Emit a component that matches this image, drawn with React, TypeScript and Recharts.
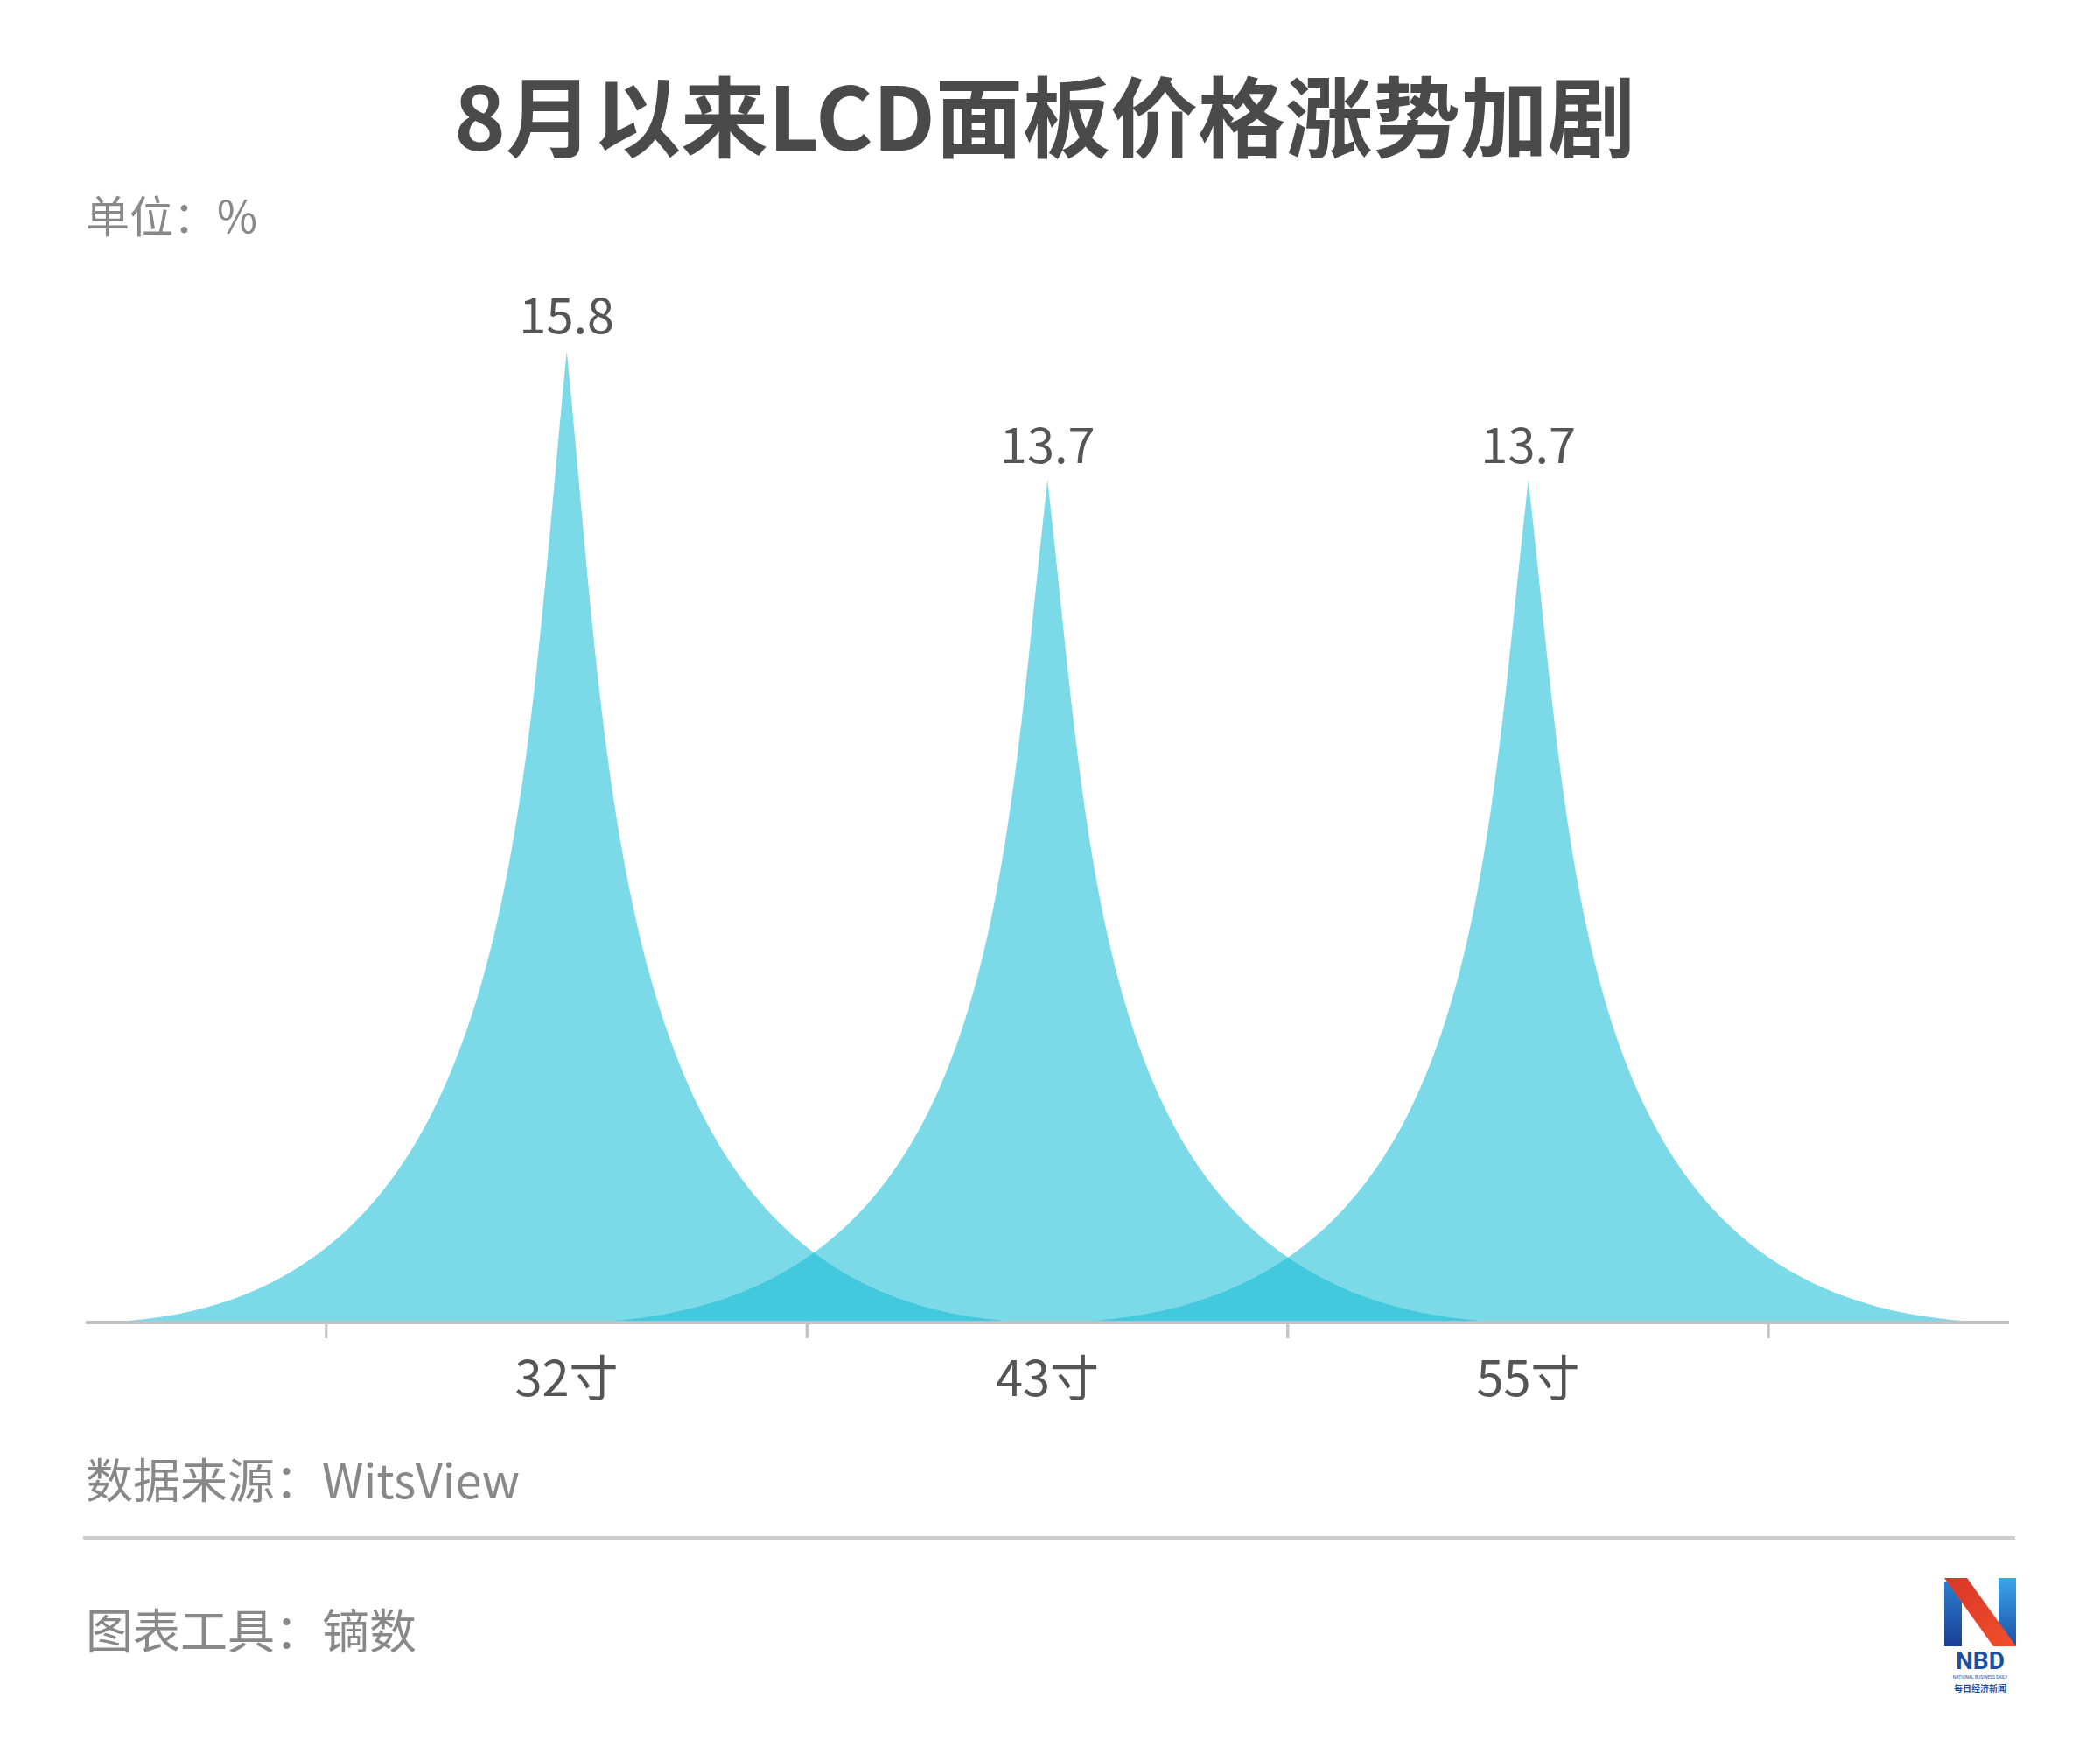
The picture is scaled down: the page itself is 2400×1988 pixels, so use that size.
import React from 'react';
import { BarChart, Bar, XAxis, YAxis, LabelList } from 'recharts';

const categories = ['32寸', '43寸', '55寸'];
const values = [15.8, 13.7, 13.7];
const titleText = '8月以来LCD面板价格涨势加剧';
const unitText = '单位：%';
const sourceText = '数据来源：WitsView';
const toolText = '图表工具：镝数';

const data = categories.map((name, i) => ({ name, value: values[i] }));

const FONT = '"Noto Sans CJK SC", "Noto Sans", sans-serif';
const W = 2400;
const H = 1988;
const M = { top: 387, right: 104, bottom: 397, left: 98 };
const XH = 80;
const PLOT_W = W - M.left - M.right;
const PAD = PLOT_W / 8;
const BAND = (PLOT_W - 2 * PAD) / 3;

function Spike(props: any) {
  const { x, y, width, height } = props;
  if (!height || height <= 0) return null;
  const cx = x + width / 2;
  const half = width;
  const X = (u: number) => cx - half + (u / 10) * 2 * half;
  const Y = (v: number) => y + (v / 10) * height;
  const d = `M${X(0)},${Y(10)} L${X(10)},${Y(10)} C${X(5.5)},${Y(10)} ${X(5.5)},${Y(5)} ${X(5)},${Y(0)} C${X(4.5)},${Y(5)} ${X(4.5)},${Y(10)} ${X(0)},${Y(10)} Z`;
  return <path d={d} fill="rgb(28,190,216)" fillOpacity={0.58} />;
}

function Tick(props: any) {
  const { x, y, payload } = props;
  const off = BAND / 2;
  return (
    <g>
      <line x1={x - off} x2={x - off} y1={y} y2={y + 18} stroke="#c4c4c8" strokeWidth={3} />
      <line x1={x + off} x2={x + off} y1={y} y2={y + 18} stroke="#c4c4c8" strokeWidth={3} />
      <text x={x} y={y + 84} textAnchor="middle" fill="#555555" fontSize={56} fontFamily={FONT}>
        {payload.value}
      </text>
    </g>
  );
}

function Logo() {
  return (
    <g transform="translate(2222,1803)">
      <defs>
        <linearGradient id="lb" x1="0" y1="0" x2="0" y2="1">
          <stop offset="0" stopColor="#2a7fd0" />
          <stop offset="1" stopColor="#1a3f96" />
        </linearGradient>
        <linearGradient id="rb" x1="0" y1="0" x2="0" y2="1">
          <stop offset="0" stopColor="#3aa6e8" />
          <stop offset="1" stopColor="#1c4fa8" />
        </linearGradient>
        <linearGradient id="rd" x1="0" y1="0" x2="1" y2="1">
          <stop offset="0" stopColor="#d9362a" />
          <stop offset="1" stopColor="#f0502a" />
        </linearGradient>
      </defs>
      <polygon points="0,4 20,4 20,78 0,78" fill="url(#lb)" />
      <polygon points="62,0 82,0 82,78 62,60" fill="url(#rb)" />
      <polygon points="0,0 26,0 82,78 56,78" fill="url(#rd)" />
      <text x={41} y={104} textAnchor="middle" fontSize={28} fontWeight={700} fill="#1c4fa0" fontFamily="Roboto, sans-serif">NBD</text>
      <text x={41} y={115} textAnchor="middle" fontSize={5} fill="#1c4fa0" fontFamily="Roboto, sans-serif">NATIONAL BUSINESS DAILY</text>
      <text x={41} y={130} textAnchor="middle" fontSize={10} fontWeight={700} fill="#1c4fa0" fontFamily={FONT}>每日经济新闻</text>
    </g>
  );
}

export default function App() {
  return (
    <div style={{ position: 'absolute', left: 0, top: 0, width: W, height: H, background: '#ffffff' }}>
      <div style={{ position: 'absolute', left: 0, top: 0 }}>
        <BarChart width={W} height={H} data={data} margin={M} barCategoryGap="0%">
          <XAxis
            dataKey="name"
            type="category"
            height={XH}
            padding={{ left: PAD, right: PAD }}
            axisLine={{ stroke: '#c0c1c5', strokeWidth: 4 }}
            tickLine={false}
            tickSize={0}
            tickMargin={0}
            interval={0}
            tick={<Tick />}
          />
          <YAxis hide domain={[0, 16]} />
          <Bar dataKey="value" shape={<Spike />} isAnimationActive={false}>
            <LabelList
              dataKey="value"
              position="top"
              offset={20}
              fill="#555555"
              fontSize={56}
              fontFamily={FONT}
            />
          </Bar>
        </BarChart>
      </div>
      <svg width={W} height={H} style={{ position: 'absolute', left: 0, top: 0, pointerEvents: 'none' }}>
        <text x={1194} y={172} textAnchor="middle" fontSize={100} fontWeight={700} fill="#4a4a4a" fontFamily={FONT}>
          {titleText}
        </text>
        <text x={98} y={266} fontSize={50} fill="#888888" fontFamily={FONT}>{unitText}</text>
        <text x={98} y={1712} fontSize={54} fill="#888888" fontFamily={FONT}>{sourceText}</text>
        <line x1={95} x2={2303} y1={1757} y2={1757} stroke="#cccccc" strokeWidth={4} />
        <text x={98} y={1884} fontSize={54} fill="#888888" fontFamily={FONT}>{toolText}</text>
        <Logo />
      </svg>
    </div>
  );
}
